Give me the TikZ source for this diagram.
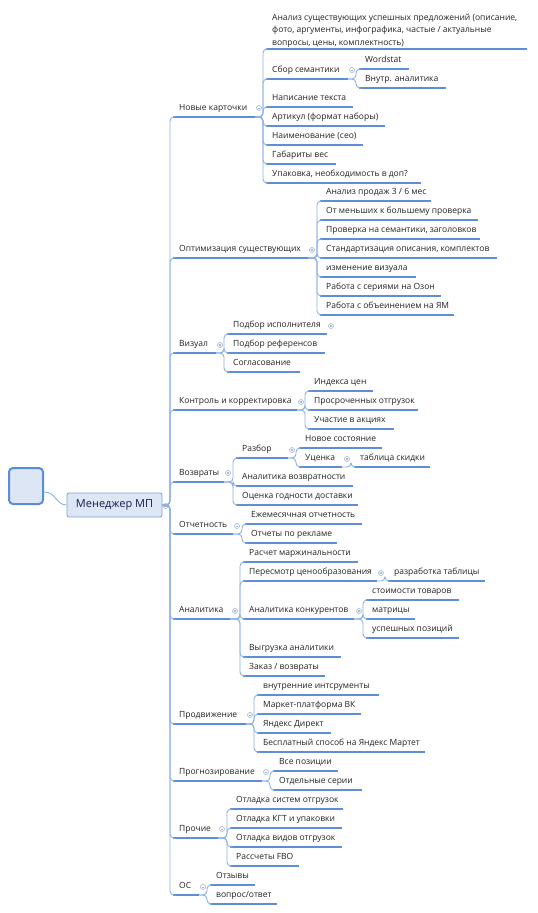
\documentclass[tikz,border=0pt]{standalone}
\usepackage{fontspec}
\setmainfont{Open Sans}
\definecolor{ucol}{RGB}{94,142,214}
\definecolor{ccol}{RGB}{140,176,228}
\definecolor{tcol}{RGB}{34,34,34}
\definecolor{mcol}{RGB}{160,180,210}
\definecolor{nfill}{RGB}{220,230,244}
\definecolor{nborder}{RGB}{125,160,215}
\definecolor{bborder}{RGB}{90,140,215}
\tikzset{
  uline/.style={draw=ucol, line width=1.3pt},
  conn/.style={draw=ccol, line width=0.9pt, rounded corners=4pt},
  lbl/.style={anchor=base west, inner sep=0pt, text=tcol, font=\fontsize{8.5}{10}\selectfont},
  mk/.style={circle, draw=mcol, line width=0.6pt, minimum size=5pt, inner sep=0pt},
}
\newcommand\mmnode[5]{%
  \coordinate (#1-s) at (#2,#3);
  \coordinate (#1-e) at (#4,#3);
  \draw[uline] (#1-s) -- (#1-e);
  \node[lbl] (#1) at (#2+6,#3-7) {#5};
}
\newcommand\mmconn[2]{\draw[conn] (#1-e) -| ([xshift=-3pt]#2-s) -- (#2-s);}
\newcommand\mkminus[3]{\node[mk] (#1) at (#2,#3) {};
  \draw[mcol, line width=0.6pt] ([xshift=-1.4pt]#1.center) -- ([xshift=1.4pt]#1.center);}
\newcommand\mkdot[3]{\node[mk] (#1) at (#2,#3) {};
  \fill[mcol] (#1.center) circle[radius=1.3pt];}
\begin{document}
\begin{tikzpicture}[x=1pt,y=-1pt]
\useasboundingbox (0,0) rectangle (538,913);
% root
\node[draw=bborder, line width=2pt, fill=nfill, rounded corners=4pt, minimum width=34pt, minimum height=36pt, inner sep=0pt] (lb) at (26,486) {};
\node[draw=nborder, line width=0.8pt, fill=nfill, rounded corners=2pt, minimum width=95pt, minimum height=24pt, inner sep=0pt, text=tcol!80!blue, font=\fontsize{11}{13}\selectfont] (cn) at (114.5,505) {Менеджер МП};
\draw[ccol, line width=0.9pt] ([yshift=-6pt]lb.east) .. controls (56,492) and (56,505) .. (cn.west);
\coordinate (cn-e) at (cn.east);
\mkminus{mcn}{165.5}{506}
% branches
\mmnode{b1}{173}{117}{255}{Новые карточки}
\mmnode{b2}{173}{258}{308}{Оптимизация существующих}
\mmnode{b3}{173}{353}{216}{Визуал}
\mmnode{b4}{173}{410}{297}{Контроль и корректировка}
\mmnode{b5}{173}{482}{224}{Возвраты}
\mmnode{b6}{173}{534}{233}{Отчетность}
\mmnode{b7}{173}{619}{230}{Аналитика}
\mmnode{b8}{173}{724}{246}{Продвижение}
\mmnode{b9}{173}{781}{262}{Прогнозирование}
\mmnode{b10}{173}{838}{218}{Прочие}
\mmnode{b11}{173}{895}{199}{ОС}
\foreach \b in {b1,b2,b3,b4,b5,b6,b7,b8,b9,b10,b11}{\mmconn{cn}{\b}}
\mkminus{m1}{259}{108}
\mkdot{m2}{312}{250}
\mkdot{m3}{220}{345}
\mkdot{m4}{301}{402}
\mkdot{m5}{228}{473}
\mkminus{m6}{237}{526}
\mkdot{m7}{235}{611}
\mkminus{m8}{250}{715}
\mkminus{m9}{266}{772}
\mkminus{m10}{222}{829}
\mkminus{m11}{203}{887}
% Новые карточки
\coordinate (c11-s) at (266,49); \coordinate (c11-e) at (527,49);
\draw[uline] (c11-s) -- (c11-e);
\node[lbl, anchor=north west, align=left, font=\fontsize{8.5}{12.5}\selectfont] (c11) at (272,13.5) {Анализ существующих успешных предложений (описание,\\фото, аргументы, инфографика, частые / актуальные\\вопросы, цены, комплектность)};
\mmnode{c12}{266}{79}{348}{Сбор семантики}
\mmnode{c13}{266}{107}{353}{Написание текста}
\mmnode{c14}{266}{126}{385}{Артикул (формат наборы)}
\mmnode{c15}{266}{145}{363}{Наименование (сео)}
\mmnode{c16}{266}{164}{336}{Габариты вес}
\mmnode{c17}{266}{183}{421}{Упаковка, необходимость в доп?}
\foreach \c in {c11,c12,c13,c14,c15,c16,c17}{\mmconn{b1}{\c}}
\mkminus{m12}{352}{70}
\mmnode{c121}{359}{69}{409}{Wordstat}
\mmnode{c122}{359}{88}{446}{Внутр. аналитика}
\foreach \c in {c121,c122}{\mmconn{c12}{\c}}
% Оптимизация
\mmnode{c21}{320}{201}{431}{Анализ продаж 3 / 6 мес}
\mmnode{c22}{320}{220}{478}{От меньших к большему проверка}
\mmnode{c23}{320}{239}{480}{Проверка на семантики, заголовков}
\mmnode{c24}{320}{258}{497}{Стандартизация описания, комплектов}
\mmnode{c25}{320}{277}{416}{изменение визуала}
\mmnode{c26}{320}{296}{441}{Работа с сериями на Озон}
\mmnode{c27}{320}{315}{454}{Работа с объеинением на ЯМ}
\foreach \c in {c21,c22,c23,c24,c25,c26,c27}{\mmconn{b2}{\c}}
% Визуал
\mmnode{c31}{227}{334}{327}{Подбор исполнителя}
\mmnode{c32}{227}{353}{325}{Подбор референсов}
\mmnode{c33}{227}{372}{300}{Согласование}
\foreach \c in {c31,c32,c33}{\mmconn{b3}{\c}}
\mkdot{m31}{331}{326}
% Контроль
\mmnode{c41}{308}{391}{373}{Индекса цен}
\mmnode{c42}{308}{410}{418}{Просроченных отгрузок}
\mmnode{c43}{308}{429}{394}{Участие в акциях}
\foreach \c in {c41,c42,c43}{\mmconn{b4}{\c}}
% Возвраты
\mmnode{c51}{236}{458}{288}{Разбор}
\mmnode{c52}{236}{486}{353}{Аналитика возвратности}
\mmnode{c53}{236}{505}{358}{Оценка годности доставки}
\foreach \c in {c51,c52,c53}{\mmconn{b5}{\c}}
\mkdot{m51}{292}{450}
\mmnode{c511}{299}{448}{382}{Новое состояние}
\mmnode{c512}{299}{467}{342}{Уценка}
\foreach \c in {c511,c512}{\mmconn{c51}{\c}}
\mkdot{m512}{347}{459}
\mmnode{c5121}{354}{467}{430}{таблица скидки}
\mmconn{c512}{c5121}
% Отчетность
\mmnode{c61}{245}{524}{362}{Ежемесячная отчетность}
\mmnode{c62}{245}{543}{337}{Отчеты по рекламе}
\foreach \c in {c61,c62}{\mmconn{b6}{\c}}
% Аналитика
\mmnode{c71}{243}{562}{358}{Расчет маржинальности}
\mmnode{c72}{243}{581}{377}{Пересмотр ценообразования}
\mmnode{c73}{243}{619}{354}{Аналитика конкурентов}
\mmnode{c74}{243}{657}{341}{Выгрузка аналитики}
\mmnode{c75}{243}{676}{325}{Заказ / возвраты}
\foreach \c in {c71,c72,c73,c74,c75}{\mmconn{b7}{\c}}
\mkdot{m72}{381}{573}
\mmnode{c721}{388}{581}{485}{разработка таблицы}
\mmconn{c72}{c721}
\mkdot{m73}{359}{611}
\mmnode{c731}{366}{600}{459}{стоимости товаров}
\mmnode{c732}{366}{619}{415}{матрицы}
\mmnode{c733}{366}{638}{459}{успешных позиций}
\foreach \c in {c731,c732,c733}{\mmconn{c73}{\c}}
% Продвижение
\mmnode{c81}{257}{695}{379}{внутренние интсрументы}
\mmnode{c82}{257}{714}{361}{Маркет-платформа ВК}
\mmnode{c83}{257}{733}{331}{Яндекс Директ}
\mmnode{c84}{257}{752}{425}{Бесплатный способ на Яндекс Мартет}
\foreach \c in {c81,c82,c83,c84}{\mmconn{b8}{\c}}
% Прогнозирование
\mmnode{c91}{273}{771}{338}{Все позиции}
\mmnode{c92}{273}{790}{362}{Отдельные серии}
\foreach \c in {c91,c92}{\mmconn{b9}{\c}}
% Прочие
\mmnode{c101}{230}{809}{343}{Отладка систем отгрузок}
\mmnode{c102}{230}{828}{342}{Отладка КГТ и упаковки}
\mmnode{c103}{230}{847}{342}{Отладка видов отгрузок}
\mmnode{c104}{230}{866}{299}{Рассчеты FBO}
\foreach \c in {c101,c102,c103,c104}{\mmconn{b10}{\c}}
% ОС
\mmnode{c111}{210}{885}{255}{Отзывы}
\mmnode{c112}{210}{904}{277}{вопрос/ответ}
\foreach \c in {c111,c112}{\mmconn{b11}{\c}}
\end{tikzpicture}
\end{document}
